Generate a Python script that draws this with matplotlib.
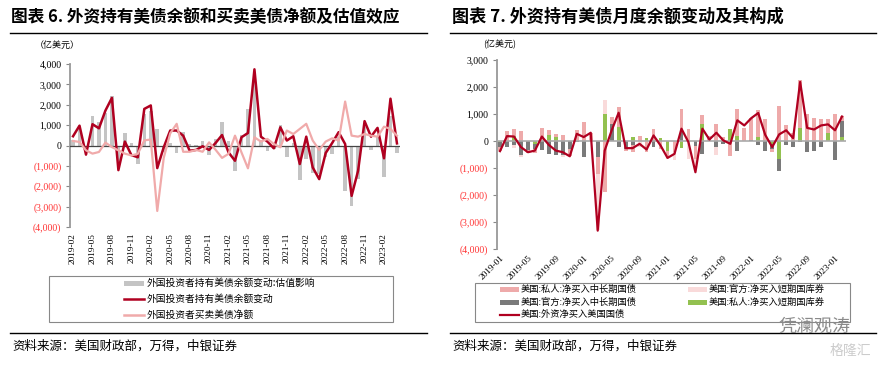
import matplotlib
matplotlib.use("Agg")
import matplotlib.pyplot as plt
from matplotlib.lines import Line2D
from matplotlib.patches import Rectangle
import numpy as np

plt.rcParams['font.family'] = ['Noto Sans CJK SC', 'DejaVu Sans']

# ---------------- Left chart data (2019-02 .. 2023-04) ----------------
left_months = ['2019-02', '2019-03', '2019-04', '2019-05', '2019-06', '2019-07', '2019-08', '2019-09',
               '2019-10', '2019-11', '2019-12', '2020-01', '2020-02', '2020-03', '2020-04', '2020-05',
               '2020-06', '2020-07', '2020-08', '2020-09', '2020-10', '2020-11', '2020-12', '2021-01',
               '2021-02', '2021-03', '2021-04', '2021-05', '2021-06', '2021-07', '2021-08', '2021-09',
               '2021-10', '2021-11', '2021-12', '2022-01', '2022-02', '2022-03', '2022-04', '2022-05',
               '2022-06', '2022-07', '2022-08', '2022-09', '2022-10', '2022-11', '2022-12', '2023-01',
               '2023-02', '2023-03', '2023-04']
valuation_effect = [300, 800, -200, 1450, 1180, 1600, 2450, -950, 600, 150,
                    -900, 1550, 1700, 800, -300, 150, -350, 650, 100, 50,
                    250, -450, 350, 1150, 250, -1250, 500, 1800, 3500, 300,
                    -250, -150, 1000, -550, 150, -1700, -650, -1350, -1400, -550,
                    -400, 400, -2200, -2950, -1650, 900, -200, 400, -1550, 1450, -350]
holdings_change = [460, 980, -440, 1050, 850, 1720, 2340, -1200, 200, -460,
                   -570, 1800, 1970, -1100, -80, 740, 740, 490, -250, -210,
                   -30, -210, 130, 520, -330, -740, 410, 620, 3740, 440,
                   200, -130, 900, 250, 460, -900, 440, -1070, -1640, -360,
                   130, 660, 80, -2460, -1230, 1200, 440, 870, -620, 2300, 110]
net_purchase = [230, 180, -230, -390, -310, 150, -70, -230, -390, -480,
                -400, 260, 300, -3200, -600, 600, 1070, -300, -300, -210,
                -300, 160, -200, -600, -400, 490, -330, -1110, 410, 200,
                330, 80, -80, 740, 570, 820, 1070, 250, -210, 200,
                360, 250, 2160, 490, 440, 570, 490, 440, 930, 820, 490]
left_ticks = ['2019-02', '2019-05', '2019-08', '2019-11', '2020-02', '2020-05', '2020-08', '2020-11',
              '2021-02', '2021-05', '2021-08', '2021-11', '2022-02', '2022-05', '2022-08', '2022-11', '2023-02']
left_yticks = [-4000, -3000, -2000, -1000, 0, 1000, 2000, 3000, 4000]
left_legend = ['外国投资者持有美债余额变动:估值影响', '外国投资者持有美债余额变动', '外国投资者买卖美债净额']

# ---------------- Right chart data (2019-01 .. 2023-02) ----------------
right_months = ['2019-01', '2019-02', '2019-03', '2019-04', '2019-05', '2019-06', '2019-07', '2019-08',
                '2019-09', '2019-10', '2019-11', '2019-12', '2020-01', '2020-02', '2020-03', '2020-04',
                '2020-05', '2020-06', '2020-07', '2020-08', '2020-09', '2020-10', '2020-11', '2020-12',
                '2021-01', '2021-02', '2021-03', '2021-04', '2021-05', '2021-06', '2021-07', '2021-08',
                '2021-09', '2021-10', '2021-11', '2021-12', '2022-01', '2022-02', '2022-03', '2022-04',
                '2022-05', '2022-06', '2022-07', '2022-08', '2022-09', '2022-10', '2022-11', '2022-12',
                '2023-01', '2023-02']
private_long = [-150, 370, 250, 360, -100, -150, 490, 220, 120, 210,
                -250, 400, 700, 300, -600, -1890, 250, 740, -100, -270,
                200, -400, 460, -300, -200, -400, 780, 450, -500, 320,
                200, 650, 150, -550, 1000, 500, 800, 1000, 800, -100,
                1300, 600, 300, 1770, 1000, 850, 800, 500, 1000, 170]
official_short = [0, 0, -100, -50, 0, 0, 0, 0, 0, -100,
                  0, 0, 0, 0, -2100, 500, 0, 0, 0, 0,
                  -200, 0, 0, 0, -100, -300, 0, -650, -300, 0,
                  0, -300, 0, 0, 0, 0, 0, 0, 0, 0,
                  0, 0, 0, 0, 0, 0, 0, 0, 0, 0]
official_long = [-150, -200, -150, -530, -330, -200, -330, -490, -530, -500,
                 -300, -50, -570, 0, -600, 0, 640, -220, -280, -150,
                 0, 0, -200, 0, 0, 0, 390, 0, -170, -470,
                 0, -200, -100, 0, -350, 0, 50, -150, -350, -200,
                 -450, -150, -200, -50, -400, -350, -200, 0, -680, 590]
private_short = [-50, 0, 200, 0, 0, -100, 0, 210, 150, 0,
                 0, 0, 0, 0, 0, 1010, 0, 520, 0, 170,
                 0, 100, 0, 100, -350, 0, -260, 0, 0, 630,
                 0, 0, 0, 450, 200, 0, 0, 150, 0, -100,
                 -650, 0, 0, 480, 0, 0, 0, 300, 0, 160]
foreign_net_total = [-370, 185, 170, -220, -410, -350, 170, -140, -350, -410,
                     -560, 270, 150, 310, -3310, -350, 400, 1050, -260, -260,
                     -100, -310, 210, -160, -620, -470, 460, -40, -1150, 460,
                     60, 310, 25, -100, 770, 580, 850, 1040, 230, -220,
                     250, 400, 110, 2190, 490, 430, 580, 620, 400, 910]
right_ticks = ['2019-01', '2019-05', '2019-09', '2020-01', '2020-05', '2020-09', '2021-01',
               '2021-05', '2021-09', '2022-01', '2022-05', '2022-09', '2023-01']
right_yticks = [-4000, -3000, -2000, -1000, 0, 1000, 2000, 3000]
right_legend = ['美国:私人:净买入中长期国债', '美国:官方:净买入短期国库券',
                '美国:官方:净买入中长期国债', '美国:私人:净买入短期国库券',
                '美国:外资净买入美国国债']

# ---------------- styles ----------------
W, H = 886, 366
DARK_RED = '#b00020'
PINK_LINE = '#f0aaaa'
GRAY_BAR = '#c4c4c4'
C_PRIV_LONG = '#eeaaaa'
C_OFF_SHORT = '#f9dada'
C_OFF_LONG = '#7a7a7a'
C_PRIV_SHORT = '#93c150'
NEG_RED = '#ff3333'
SERIF = ['Liberation Serif', 'DejaVu Serif']

fig = plt.figure(figsize=(W / 100, H / 100), dpi=100)


def fx(x):
    return x / W


def fy(y):
    return 1 - y / H


def px_axes(x0, y_top, x1, y_bot):
    return fig.add_axes([x0 / W, 1 - y_bot / H, (x1 - x0) / W, (y_bot - y_top) / H])


def fmt_label(v):
    if v < 0:
        return '({:,})'.format(-v)
    return '{:,}'.format(v)


def style_y(ax, ticks):
    ax.set_yticks(ticks)
    ax.set_yticklabels([fmt_label(v) for v in ticks], family=SERIF, fontsize=7)
    for lab, v in zip(ax.get_yticklabels(), ticks):
        lab.set_color(NEG_RED if v < 0 else 'black')
    ax.tick_params(axis='y', length=3, width=0.8, color='#888888', pad=3)
    for s in ['top', 'right', 'bottom']:
        ax.spines[s].set_visible(False)
    ax.spines['left'].set_color('#999999')
    ax.spines['left'].set_linewidth(1.3)


# ---------------- Left chart ----------------
axL = px_axes(69.8, 64, 400.2, 227.3)
xl = np.arange(len(left_months))
axL.bar(xl, valuation_effect, width=0.55, color=GRAY_BAR, zorder=2)
axL.axhline(0, color='#444444', lw=0.9, zorder=3)
axL.plot(xl, holdings_change, color=DARK_RED, lw=1.8, zorder=4)
axL.plot(xl, net_purchase, color=PINK_LINE, lw=1.6, zorder=5)
axL.set_xlim(-0.5, len(left_months) - 0.5)
axL.set_ylim(-4000, 4000)
style_y(axL, left_yticks)
axL.set_xticks([left_months.index(t) for t in left_ticks])
axL.set_xticklabels(left_ticks, rotation=90, family=SERIF, fontsize=6.7)
axL.tick_params(axis='x', length=0, pad=4)

# ---------------- Right chart ----------------
axR = px_axes(496.5, 60, 845.5, 249.3)
xr = np.arange(len(right_months))
stack_order = [(private_short, C_PRIV_SHORT), (official_long, C_OFF_LONG),
               (private_long, C_PRIV_LONG), (official_short, C_OFF_SHORT)]
pos_base = np.zeros(len(xr))
neg_base = np.zeros(len(xr))
for vals, col in stack_order:
    v = np.array(vals, dtype=float)
    pos = np.where(v > 0, v, 0)
    neg = np.where(v < 0, v, 0)
    axR.bar(xr, pos, bottom=pos_base, width=0.55, color=col, zorder=2)
    axR.bar(xr, neg, bottom=neg_base, width=0.55, color=col, zorder=2)
    pos_base += pos
    neg_base += neg
axR.axhline(0, color='#aaaaaa', lw=1.2, zorder=3)
axR.plot(xr, foreign_net_total, color=DARK_RED, lw=1.6, zorder=5)
axR.set_xlim(-0.5, len(right_months) - 0.5)
axR.set_ylim(-4000, 3000)
style_y(axR, right_yticks)
axR.set_xticks([right_months.index(t) for t in right_ticks])
axR.set_xticklabels(right_ticks, rotation=45, ha='right', rotation_mode='anchor',
                    family=SERIF, fontsize=6.7)
axR.tick_params(axis='x', length=0, pad=3)

# ---------------- Titles, rules, sources ----------------
fig.text(fx(11), fy(17), '图表 6. 外资持有美债余额和买卖美债净额及估值效应',
         fontsize=12, fontweight='bold', va='center', ha='left')
fig.text(fx(452), fy(17), '图表 7. 外资持有美债月度余额变动及其构成',
         fontsize=12.3, fontweight='bold', va='center', ha='left')
for (a, b) in [(10, 427), (450, 876)]:
    fig.add_artist(Line2D([fx(a), fx(b)], [fy(33), fy(33)], color='black', lw=1.0))
    fig.add_artist(Line2D([fx(a), fx(b)], [fy(333), fy(333)], color='black', lw=1.0))
fig.text(fx(12), fy(346), '资料来源：美国财政部，万得，中银证券', fontsize=9,
         va='center', ha='left', style='italic')
fig.text(fx(452), fy(346), '资料来源：美国财政部，万得，中银证券', fontsize=9,
         va='center', ha='left', style='italic')
fig.text(fx(57), fy(45), '（亿美元）', fontsize=6.5, va='center', ha='center')
fig.text(fx(500), fy(45), '(亿美元)', fontsize=6.5, va='center', ha='center')

# ---------------- Left legend (manual) ----------------
fig.add_artist(Rectangle((fx(49), fy(322)), fx(393) - fx(49), fy(276) - fy(322),
                         fill=False, edgecolor='#888888', lw=0.8))
rows_l = [283, 299, 315]
fig.add_artist(Rectangle((fx(124), fy(rows_l[0] + 2.5)), fx(144) - fx(124), fy(rows_l[0] - 2.5) - fy(rows_l[0] + 2.5),
                         facecolor=GRAY_BAR, edgecolor='none'))
fig.add_artist(Line2D([fx(124), fx(144)], [fy(rows_l[1]), fy(rows_l[1])], color=DARK_RED, lw=1.8))
fig.add_artist(Line2D([fx(124), fx(144)], [fy(rows_l[2]), fy(rows_l[2])], color=PINK_LINE, lw=1.8))
for r, lab in zip(rows_l, left_legend):
    fig.text(fx(147), fy(r), lab, fontsize=7, va='center', ha='left')

# ---------------- Right legend (manual) ----------------
fig.add_artist(Rectangle((fx(475), fy(322)), fx(850) - fx(475), fy(283) - fy(322),
                         fill=False, edgecolor='#888888', lw=0.8))
rows_r = [289.5, 302, 314.5]
slots = [(500, rows_r[0], C_PRIV_LONG, 'patch'), (688, rows_r[0], C_OFF_SHORT, 'patch'),
         (500, rows_r[1], C_OFF_LONG, 'patch'), (688, rows_r[1], C_PRIV_SHORT, 'patch'),
         (500, rows_r[2], DARK_RED, 'line')]
for (x0, r, col, kind), lab in zip(slots, right_legend):
    if kind == 'patch':
        fig.add_artist(Rectangle((fx(x0), fy(r + 2.5)), fx(x0 + 19) - fx(x0), fy(r - 2.5) - fy(r + 2.5),
                                 facecolor=col, edgecolor='none'))
    else:
        fig.add_artist(Line2D([fx(x0), fx(x0 + 19)], [fy(r), fy(r)], color=col, lw=1.6))
    fig.text(fx(x0 + 21), fy(r), lab, fontsize=6.7, va='center', ha='left')

# watermark text
fig.text(fx(815), fy(327), '凭澜观涛', fontsize=13, color='#8a8a8a', va='center', ha='center')
fig.text(fx(850), fy(351), '格隆汇', fontsize=10, color='#cccccc', va='center', ha='center')

fig.savefig('out.png', dpi=100)
